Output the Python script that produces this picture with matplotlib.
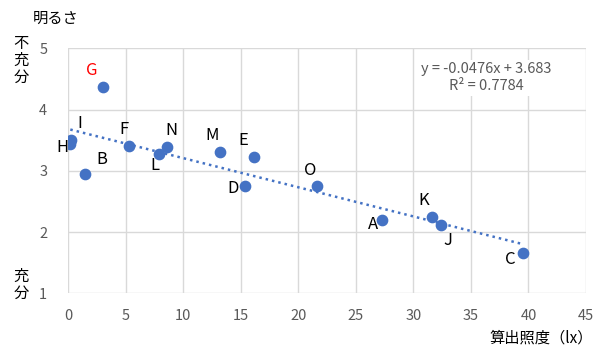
import matplotlib.pyplot as plt

plt.rcParams['font.family'] = ['Noto Sans CJK JP', 'DejaVu Sans']

# data
names = ['G', 'I', 'H', 'B', 'F', 'L', 'N', 'M', 'E', 'D', 'O', 'A', 'K', 'J', 'C']
illum = [3.0, 0.3, 0.2, 1.5, 5.3, 7.9, 8.6, 13.2, 16.2, 15.4, 21.6, 27.3, 31.6, 32.4, 39.5]
bright = [4.37, 3.50, 3.43, 2.95, 3.41, 3.27, 3.39, 3.30, 3.22, 2.75, 2.75, 2.19, 2.25, 2.11, 1.66]
slope = -0.0476
intercept = 3.683
r2 = 0.7784

# label offsets in points (dx, dy)
offsets = {
    'G': (-8, 12), 'I': (6, 12), 'H': (-6, -2), 'B': (12, 10), 'F': (-4, 12),
    'L': (-3, -8), 'N': (3, 12), 'M': (-6, 12), 'E': (-8, 12), 'D': (-9, -2),
    'O': (-5, 11), 'A': (-7, -3), 'K': (-6, 12), 'J': (5, -11), 'C': (-9, -5),
}

fig = plt.figure(figsize=(5.98, 3.54), dpi=100)
ax = fig.add_axes([0.1137, 0.1715, 0.8663, 0.6921])

ax.scatter(illum, bright, s=55, color='#4472C4', zorder=3)

xs = [min(illum), max(illum)]
ax.plot(xs, [slope * v + intercept for v in xs], color='#4472C4',
        linestyle=(0, (1, 1.6)), lw=1.8, zorder=2)

for n, x, y in zip(names, illum, bright):
    dx, dy = offsets[n]
    ax.annotate(n, (x, y), xytext=(dx, dy), textcoords='offset points',
                ha='center', va='center', fontsize=12,
                color='red' if n == 'G' else 'black', zorder=4)

ax.set_xlim(0, 45)
ax.set_ylim(1, 5)
ax.set_xticks(range(0, 46, 5))
ax.set_yticks([1, 2, 3, 4, 5])
ax.grid(True, color='#d9d9d9', lw=1)
ax.set_axisbelow(True)
for s in ax.spines.values():
    s.set_visible(False)
ax.tick_params(length=0, labelsize=10.5, colors='#595959')
ax.tick_params(axis='y', pad=15)
ax.tick_params(axis='x', pad=11)

ax.text(36.3, 4.52, f'y = {slope}x + {intercept}\nR² = {r2}', ha='center', va='center',
        fontsize=10.5, color='#595959', linespacing=1.25,
        bbox=dict(facecolor='white', edgecolor='none', pad=2), zorder=5)

fig.text(0.093, 0.948, '明るさ', ha='center', va='center', fontsize=11)
fig.text(0.035, 0.83, '不\n充\n分', ha='center', va='center', fontsize=11, linespacing=1.0)
fig.text(0.035, 0.195, '充\n分', ha='center', va='center', fontsize=11, linespacing=1.0)
fig.text(0.905, 0.045, '算出照度（lx）', ha='center', va='center', fontsize=11)

fig.savefig('out.png', dpi=100)
